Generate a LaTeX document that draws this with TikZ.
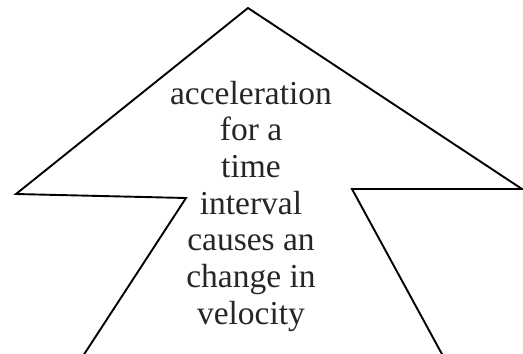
\documentclass[tikz,border=0pt]{standalone}
\usepackage{fontspec}
\setmainfont{Liberation Serif}
\usepackage{tikz}
\usetikzlibrary{positioning, calc}

\begin{document}
\begin{tikzpicture}[x=1pt, y=-1pt, line width=1.9pt, line join=miter,
    every node/.style={align=center, inner sep=0pt},
    label text/.style={font=\fontsize{33.5}{36.7}\selectfont, text=black!85}]
    \useasboundingbox (0,0) rectangle (523,354);
    % corners of the arrow
    \coordinate (apex) at (248,8);
    \coordinate (lwing) at (16,194);
    \coordinate (linner) at (186,198);
    \coordinate (lfoot) at (83,356);
    \coordinate (rwing) at (522,189);
    \coordinate (rinner) at (352,189);
    \coordinate (rfoot) at (443,356);

    \draw (lfoot) -- (linner) -- (lwing) -- (apex) -- (rwing) -- (rinner) -- (rfoot);

    \node[label text, anchor=north] (caption) at (251,80)
        {acceleration\\for a\\time\\interval\\causes an\\change in\\velocity};
\end{tikzpicture}
\end{document}
